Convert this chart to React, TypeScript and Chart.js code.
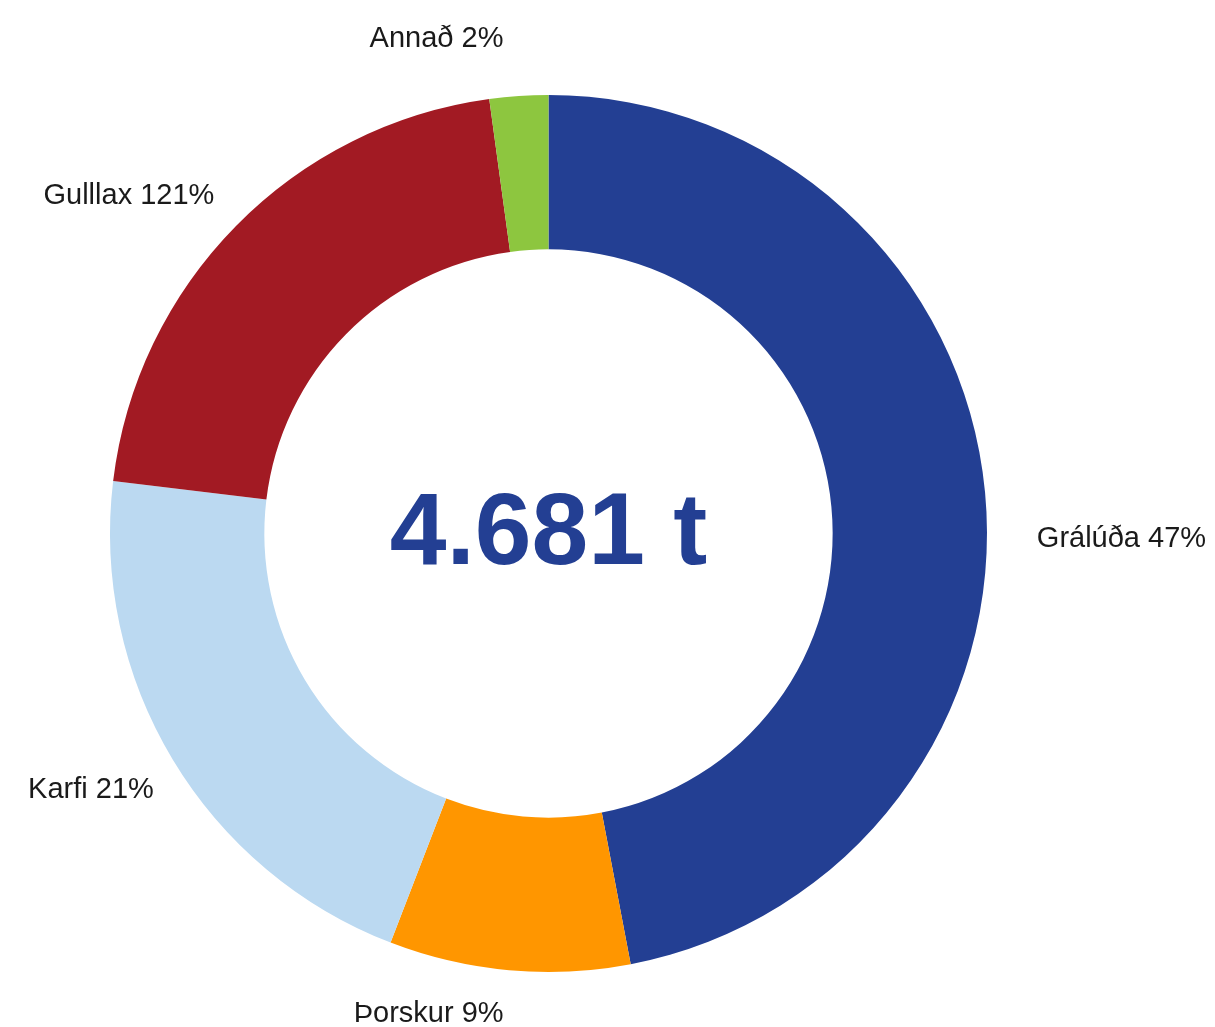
import React, { useEffect, useRef } from "react";
import { Chart, registerables } from "chart.js";

Chart.register(...registerables);

const categories = ["Grálúða", "Þorskur", "Karfi", "Gulllax", "Annað"];
const tonnes = [2200, 415, 985, 980, 101];
const percentLabels = ["47%", "9%", "21%", "121%", "2%"];
const colors = ["#233f93", "#ff9600", "#bbd9f1", "#a21a23", "#8dc63f"];
const centerLabel = "4.681 t";

// small per-label nudges (px) applied after radial placement
const labelNudge: [number, number][] = [
  [2, 49],
  [-1, -9],
  [24, 2],
  [14, 3],
  [-12, -10],
];

const labelPlugin = {
  id: "outerLabels",
  afterDatasetsDraw(chart: any) {
    const ctx = chart.ctx as CanvasRenderingContext2D;
    const meta = chart.getDatasetMeta(0);
    ctx.save();
    ctx.font = '29px "Liberation Sans", Arial, sans-serif';
    ctx.fillStyle = "#1a1a1a";
    ctx.textBaseline = "alphabetic";
    meta.data.forEach((arc: any, i: number) => {
      const p = arc.getProps(["x", "y", "startAngle", "endAngle", "outerRadius"], true);
      const mid = (p.startAngle + p.endAngle) / 2;
      const r = p.outerRadius + 50;
      const cx = p.x + Math.cos(mid) * r + labelNudge[i][0];
      const cy = p.y + Math.sin(mid) * r + labelNudge[i][1];
      ctx.textAlign = Math.cos(mid) >= 0 ? "left" : "right";
      ctx.fillText(categories[i] + " " + percentLabels[i], cx, cy + 10.5);
    });
    // center text
    const a0 = meta.data[0];
    ctx.font = 'bold 102px "Liberation Sans", Arial, sans-serif';
    ctx.fillStyle = "#233f93";
    ctx.textAlign = "center";
    ctx.fillText(centerLabel, a0.x, a0.y + 30);
    ctx.restore();
  },
};

export default function App() {
  const ref = useRef<HTMLCanvasElement | null>(null);
  useEffect(() => {
    if (!ref.current) return;
    const chart = new Chart(ref.current, {
      type: "doughnut",
      data: {
        labels: categories,
        datasets: [
          {
            data: tonnes,
            backgroundColor: colors,
            borderWidth: 0,
          },
        ],
      },
      options: {
        animation: false,
        responsive: false,
        cutout: "64.8%",
        layout: { padding: { left: 110, top: 95, right: 228, bottom: 55 } },
        plugins: {
          legend: { display: false },
          tooltip: { enabled: false },
        },
      },
      plugins: [labelPlugin],
    });
    return () => chart.destroy();
  }, []);
  return (
    <div style={{ position: "absolute", left: 0, top: 0, width: 1215, height: 1027, background: "#fff" }}>
      <canvas ref={ref} width={1215} height={1027} style={{ width: 1215, height: 1027, display: "block" }} />
    </div>
  );
}
